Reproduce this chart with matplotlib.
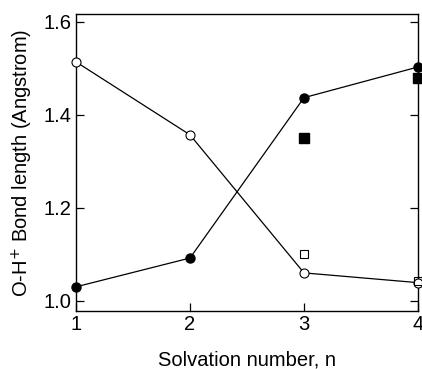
import numpy as np
import matplotlib
matplotlib.use('Agg')
from matplotlib import pyplot as plt

plt.rcParams['font.family'] = ['Liberation Sans', 'DejaVu Sans']

n = [1, 2, 3, 4]
filled_circ = [1.030, 1.092, 1.437, 1.503]
open_circ = [1.514, 1.357, 1.060, 1.039]
n_sq = [3, 4]
filled_sq = [1.350, 1.480]
open_sq = [1.101, 1.043]

fig = plt.figure(figsize=(4.22, 3.69), dpi=100)
ax = fig.add_axes([76/422, 1 - 311/369, (418-76)/422, (311-14)/369])

ax.plot(n, filled_circ, 'k-', lw=0.9, marker='o', ms=6.5, mfc='black', mec='black', clip_on=False, zorder=3)
ax.plot(n, open_circ, 'k-', lw=0.9, marker='o', ms=6.5, mfc='white', mec='black', mew=0.8, clip_on=False, zorder=3)
ax.plot(n_sq, filled_sq, 's', ms=6.5, mfc='black', mec='black', ls='none', clip_on=False, zorder=3)
ax.plot(n_sq, open_sq, 's', ms=6, mfc='none', mec='black', mew=0.8, ls='none', clip_on=False, zorder=3)

ax.set_xlim(1, 4)
ax.set_ylim(0.978, 1.617)
ax.set_xticks([1, 2, 3, 4])
ax.set_yticks([1.0, 1.2, 1.4, 1.6])
ax.set_yticklabels(['1.0', '1.2', '1.4', '1.6'])
ax.tick_params(direction='in', length=6, width=0.9, labelsize=14.5, right=True, pad=3)
for s in ax.spines.values():
    s.set_linewidth(1.0)

ax.set_xlabel('Solvation number, n', fontsize=14.5, labelpad=12)
ax.set_ylabel('O-H$^{+}$ Bond length (Angstrom)', fontsize=14.5, labelpad=6)

fig.savefig('out.png', dpi=100)
